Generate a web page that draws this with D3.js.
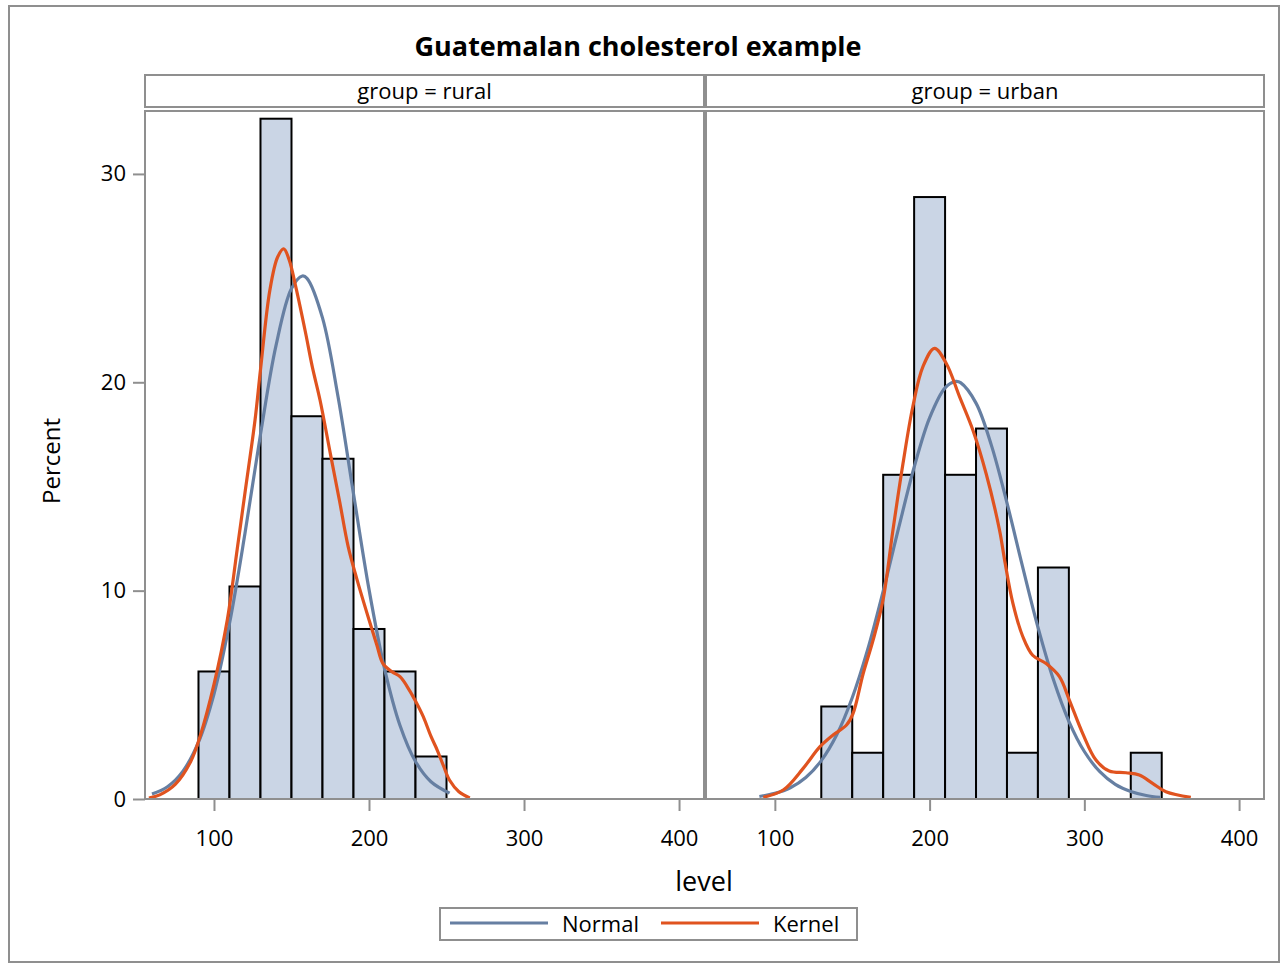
<!DOCTYPE html>
<html>
<head>
<meta charset="utf-8">
<script src="https://cdn.jsdelivr.net/npm/d3@7"></script>
<style>
  html, body { margin: 0; padding: 0; background: #fff; }
  svg { display: block; }
  text { font-family: "Open Sans", "Noto Sans", sans-serif; fill: #000; }
</style>
</head>
<body>
<svg id="chart" width="1286" height="964"></svg>
<script>
// ---------- DATA ----------
const title = "Guatemalan cholesterol example";
const groups = ["rural", "urban"];
const binWidth = 20;
const xTicks = [100, 200, 300, 400];
const yTicks = [0, 10, 20, 30];

const ruralBinStart = [90, 110, 130, 150, 170, 190, 210, 230];
const ruralPercent  = [6.12, 10.20, 32.65, 18.37, 16.33, 8.16, 6.12, 2.04];

const urbanBinStart = [130, 150, 170, 190, 210, 230, 250, 270, 330];
const urbanPercent  = [4.44, 2.22, 15.56, 28.89, 15.56, 17.78, 2.22, 11.11, 2.22];

const ruralNormalX = [60, 70, 80, 90, 100, 110, 120, 130, 140, 150, 157, 160, 170, 180, 190, 200, 210, 220, 230, 240, 252];
const ruralNormalY = [0.24, 0.59, 1.34, 2.73, 5.04, 8.42, 12.75, 17.50, 21.76, 24.50, 25.10, 24.99, 23.09, 19.32, 14.65, 10.06, 6.26, 3.53, 1.80, 0.83, 0.28];

const ruralKernelX = [58, 65, 75, 85, 91, 100, 108.6, 115, 120, 126.5, 130, 136, 141, 145, 148.4, 152.7, 159, 163.4, 168.4, 175, 181, 186.6, 192, 200, 205, 209, 215, 220, 226, 230, 235, 240, 244, 248, 252, 258, 265];
const ruralKernelY = [0.05, 0.2, 0.7, 1.8, 3.0, 5.5, 8.6, 12.0, 14.7, 18.2, 20.6, 24.4, 26.0, 26.4, 25.9, 24.6, 22.4, 20.75, 19.15, 16.6, 14.3, 12.1, 10.6, 8.6, 7.4, 6.5, 6.1, 5.87, 5.23, 4.7, 3.95, 3.0, 2.35, 1.6, 0.9, 0.35, 0.05];

const urbanNormalX = [90, 100, 110, 120, 130, 140, 150, 160, 170, 180, 190, 200, 210, 217, 220, 230, 240, 250, 260, 270, 280, 290, 300, 310, 320, 330, 340, 349];
const urbanNormalY = [0.12, 0.27, 0.54, 1.03, 1.84, 3.08, 4.86, 7.18, 9.98, 13.01, 15.92, 18.29, 19.73, 20.04, 19.98, 19.00, 16.96, 14.21, 11.18, 8.25, 5.73, 3.73, 2.28, 1.31, 0.70, 0.36, 0.17, 0.08];

const urbanKernelX = [92.5, 105.4, 118.3, 129, 137.6, 146.3, 150.5, 157, 163.4, 169.9, 176.3, 182.8, 189.2, 195.7, 203.2, 210.8, 219.4, 228, 236.6, 245.2, 248.4, 253.8, 260.2, 266.6, 275.3, 283.9, 290.3, 298.9, 307.5, 316.1, 326.9, 335.5, 344.1, 352.7, 368.8];
const urbanKernelY = [0.08, 0.43, 1.47, 2.5, 3.07, 3.55, 4.1, 6.0, 7.6, 9.55, 12.9, 16.1, 18.85, 20.75, 21.63, 20.9, 19.3, 17.7, 15.6, 12.9, 11.5, 9.4, 7.8, 6.9, 6.5, 5.87, 4.75, 3.15, 1.87, 1.34, 1.26, 1.15, 0.75, 0.35, 0.08];

const legendLabels = ["Normal", "Kernel"];

// ---------- STYLE / LAYOUT ----------
const gray = "#8f8f8f";
const barFill = "#cad5e5";
const normalColor = "#667fa2";
const kernelColor = "#e0531f";
const plotTop = 111, plotBottom = 799;
const panels = [
  { x0: 145, x1: 704, binStart: ruralBinStart, pct: ruralPercent,
    nx: ruralNormalX, ny: ruralNormalY, kx: ruralKernelX, ky: ruralKernelY, label: "group = " + groups[0] },
  { x0: 706, x1: 1264, binStart: urbanBinStart, pct: urbanPercent,
    nx: urbanNormalX, ny: urbanNormalY, kx: urbanKernelX, ky: urbanKernelY, label: "group = " + groups[1] }
];
const xDomain = [55.5, 416.1];
const yDomain = [0, 33.02];

const svg = d3.select("#chart");

// outer border
svg.append("rect").attr("x", 9).attr("y", 6).attr("width", 1270).attr("height", 956)
  .attr("fill", "#fff").attr("stroke", gray).attr("stroke-width", 2);

// title
svg.append("text").attr("x", 638).attr("y", 56).attr("text-anchor", "middle")
  .attr("font-size", 27).attr("font-weight", "bold").text(title);

const y = d3.scaleLinear().domain(yDomain).range([plotBottom, plotTop]);

panels.forEach((p, i) => {
  const x = d3.scaleLinear().domain(xDomain).range([p.x0, p.x1]);
  const g = svg.append("g");

  // header strip
  g.append("rect").attr("x", p.x0).attr("y", 75).attr("width", p.x1 - p.x0).attr("height", 32)
    .attr("fill", "#fff").attr("stroke", gray).attr("stroke-width", 2);
  g.append("text").attr("x", (p.x0 + p.x1) / 2).attr("y", 99).attr("text-anchor", "middle")
    .attr("font-size", 22).text(p.label);

  // bars
  g.selectAll("rect.bar").data(p.binStart.map((b, j) => ({ b, v: p.pct[j] })))
    .enter().append("rect").attr("class", "bar")
    .attr("x", d => x(d.b))
    .attr("width", d => x(d.b + binWidth) - x(d.b))
    .attr("y", d => y(d.v))
    .attr("height", d => y(0) - y(d.v))
    .attr("fill", barFill).attr("stroke", "#000").attr("stroke-width", 2);

  const line = d3.line().x(d => x(d[0])).y(d => y(d[1])).curve(d3.curveCatmullRom.alpha(0.5));
  g.append("path").datum(p.nx.map((v, j) => [v, p.ny[j]]))
    .attr("d", line).attr("fill", "none").attr("stroke", normalColor).attr("stroke-width", 3.2);
  g.append("path").datum(p.kx.map((v, j) => [v, p.ky[j]]))
    .attr("d", line).attr("fill", "none").attr("stroke", kernelColor).attr("stroke-width", 3.2);

  // panel frame
  g.append("rect").attr("x", p.x0).attr("y", plotTop).attr("width", p.x1 - p.x0).attr("height", plotBottom - plotTop)
    .attr("fill", "none").attr("stroke", gray).attr("stroke-width", 2);

  // x axis
  const xa = g.append("g").attr("transform", `translate(0,${plotBottom})`)
    .call(d3.axisBottom(x).tickValues(xTicks).tickSize(12).tickPadding(19).tickFormat(d3.format("d")));
  xa.select(".domain").remove();
  xa.selectAll("line").attr("stroke", gray).attr("stroke-width", 2);
  xa.selectAll("text").attr("font-size", 22).attr("fill", "#000");

  if (i === 0) {
    const ya = g.append("g").attr("transform", `translate(${p.x0},0)`)
      .call(d3.axisLeft(y).tickValues(yTicks).tickSize(12).tickPadding(7).tickFormat(d3.format("d")));
    ya.select(".domain").remove();
    ya.selectAll("line").attr("stroke", gray).attr("stroke-width", 2);
    ya.selectAll("text").attr("font-size", 22).attr("fill", "#000");
  }
});

// axis labels
svg.append("text").attr("x", 704).attr("y", 891).attr("text-anchor", "middle")
  .attr("font-size", 27).text("level");
svg.append("text").attr("transform", "translate(60,461) rotate(-90)").attr("text-anchor", "middle")
  .attr("font-size", 24).text("Percent");

// legend
const lg = svg.append("g");
lg.append("rect").attr("x", 440).attr("y", 908).attr("width", 417).attr("height", 32)
  .attr("fill", "#fff").attr("stroke", gray).attr("stroke-width", 2);
const legendItems = [
  { label: legendLabels[0], color: normalColor, lx: 450 },
  { label: legendLabels[1], color: kernelColor, lx: 661 }
];
legendItems.forEach(it => {
  lg.append("line").attr("x1", it.lx).attr("x2", it.lx + 98).attr("y1", 923).attr("y2", 923)
    .attr("stroke", it.color).attr("stroke-width", 3.2);
  lg.append("text").attr("x", it.lx + 112).attr("y", 932).attr("font-size", 22).text(it.label);
});
</script>
</body>
</html>
